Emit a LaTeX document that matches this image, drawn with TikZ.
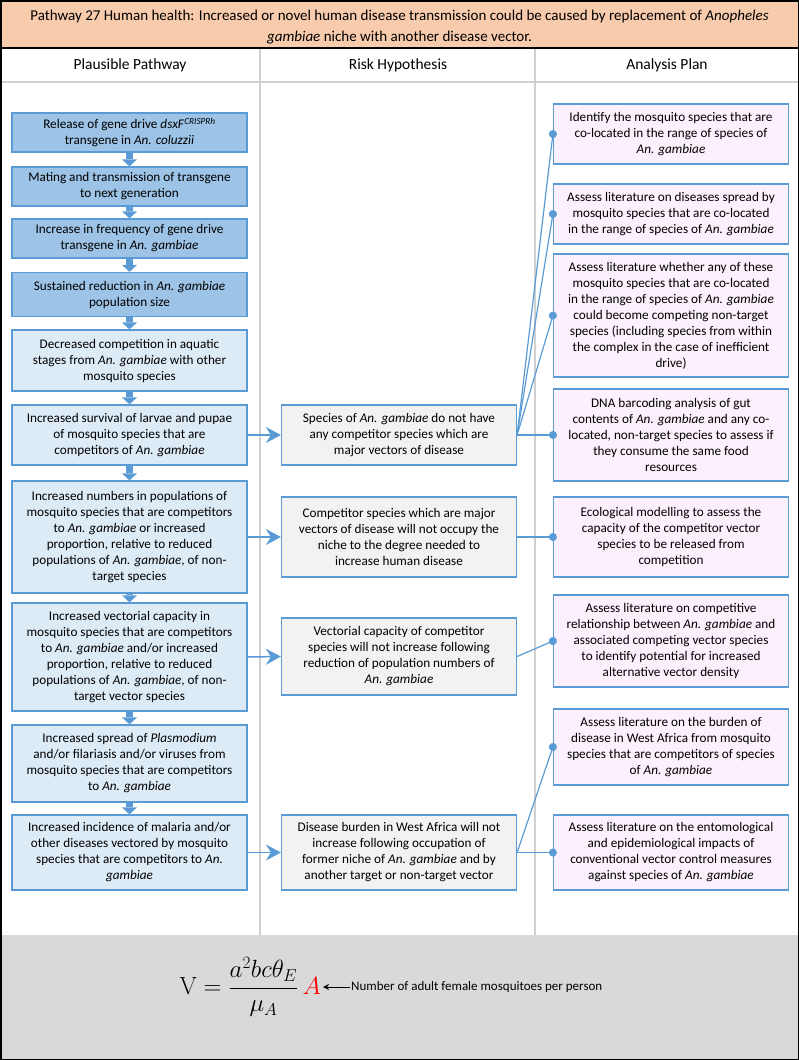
\documentclass[tikz,border=0pt]{standalone}
\usepackage{amsmath}
\usepackage[no-math]{fontspec}
\setmainfont{Carlito}
\usetikzlibrary{arrows.meta}

\definecolor{edgeblue}{RGB}{91,155,213}
\definecolor{driveblue}{RGB}{157,195,230}
\definecolor{paleblue}{RGB}{221,235,247}
\definecolor{riskgray}{RGB}{242,242,242}
\definecolor{planpink}{RGB}{252,240,252}
\definecolor{titlepeach}{RGB}{248,203,173}
\definecolor{bandgray}{RGB}{217,217,217}
\definecolor{rulegray}{RGB}{208,208,208}

\tikzset{
  box/.style={rectangle, draw=edgeblue, line width=1.2pt, align=center, inner sep=2pt,
    minimum width=235pt, font=\fontsize{13.2}{16}\selectfont},
  drivebox/.style={box, fill=driveblue},
  pathbox/.style={box, fill=paleblue},
  riskbox/.style={box, fill=riskgray},
  planbox/.style={box, fill=planpink},
  downarrow/.style={draw=edgeblue, line width=6.5pt, -{Triangle[width=15pt,length=7pt,line width=0pt]}},
  riskarrow/.style={draw=edgeblue, line width=1.5pt, -{Stealth[length=15pt,width=16pt,inset=5pt]}},
  planlink/.style={draw=edgeblue, line width=1.2pt, -{Circle[length=8pt,width=8pt]}, shorten >=-4pt},
  colhead/.style={font=\fontsize{15.5}{18}\selectfont}
}

\begin{document}
\begin{tikzpicture}[x=1pt,y=-1pt]
            \useasboundingbox (0,0) rectangle (799,1060);
            \fill[titlepeach] (0,0) rectangle (799,48);
            \fill[bandgray] (0,935) rectangle (799,1060);
            \draw[rulegray, line width=1.5pt] (0,82) -- (799,82);
            \draw[rulegray, line width=1.5pt] (260,48) -- (260,935);
            \draw[rulegray, line width=1.5pt] (535,48) -- (535,935);
            \draw[black, line width=1.6pt] (0,48) -- (799,48);
            \draw[black, line width=3pt] (0,0) rectangle (799,1060);
            \node[align=center, font=\fontsize{15}{21}\selectfont] (title) at (399.5,27.5) {Pathway 27 Human health: Increased or novel human disease transmission could be caused by replacement of \textit{Anopheles}\\ \textit{gambiae} niche with another disease vector.};
            \node[colhead] (hpath) at (130,65) {Plausible Pathway};
            \node[colhead] (hrisk) at (398,65) {Risk Hypothesis};
            \node[colhead] (hplan) at (667,65) {Analysis Plan};
            \begin{scope}[every node/.append style={}]
                \node[drivebox, minimum height=39pt] (l1) at (129.5,132.5) {Release of gene drive \textit{dsxF}\textsuperscript{\textit{CRISPRh}}\\ transgene in \textit{An. coluzzii}};
                \node[drivebox, minimum height=39pt] (l2) at (129.5,186.5) {Mating and transmission of transgene\\ to next generation};
                \node[drivebox, minimum height=39pt] (l3) at (129.5,238.5) {Increase in frequency of gene drive\\ transgene in \textit{An. gambiae}};
                \node[drivebox, minimum height=44pt] (l4) at (129.5,294.5) {Sustained reduction in \textit{An. gambiae}\\ population size};
                \node[pathbox, minimum height=61pt] (l5) at (129.5,360.5) {Decreased competition in aquatic\\ stages from \textit{An. gambiae} with other\\ mosquito species};
                \node[pathbox, minimum height=60pt] (l6) at (129.5,435) {Increased survival of larvae and pupae\\ of mosquito species that are\\ competitors of \textit{An. gambiae}};
                \node[pathbox, minimum height=112pt] (l7) at (129.5,537) {Increased numbers in populations of\\ mosquito species that are competitors\\ to \textit{An. gambiae} or increased\\ proportion, relative to reduced\\ populations of \textit{An. gambiae}, of non-\\ target species};
                \node[pathbox, minimum height=108pt] (l8) at (129.5,657) {Increased vectorial capacity in\\ mosquito species that are competitors\\ to \textit{An. gambiae} and/or increased\\ proportion, relative to reduced\\ populations of \textit{An. gambiae}, of non-\\ target vector species};
                \node[pathbox, minimum height=77pt] (l9) at (129.5,763.5) {Increased spread of \textit{Plasmodium}\\ and/or filariasis and/or viruses from\\ mosquito species that are competitors\\ to \textit{An. gambiae}};
                \node[pathbox, minimum height=75pt] (l10) at (129.5,852.5) {Increased incidence of malaria and/or\\ other diseases vectored by mosquito\\ species that are competitors to \textit{An.}\\ \textit{gambiae}};
            \end{scope}
            \begin{scope}[every node/.append style={riskbox}]
                \node[minimum height=60pt] (r1) at (399,435) {Species of \textit{An. gambiae} do not have\\ any competitor species which are\\ major vectors of disease};
                \node[minimum height=80pt] (r2) at (399,537) {Competitor species which are major\\ vectors of disease will not occupy the\\ niche to the degree needed to\\ increase human disease};
                \node[minimum height=77pt] (r3) at (399,656.5) {Vectorial capacity of competitor\\ species will not increase following\\ reduction of population numbers of\\ \textit{An. gambiae}};
                \node[minimum height=75pt] (r4) at (399,852.5) {Disease burden in West Africa will not\\ increase following occupation of\\ former niche of \textit{An. gambiae} and by\\ another target or non-target vector};
            \end{scope}
            \begin{scope}[every node/.append style={planbox}]
                \node[minimum height=60pt] (p1) at (671,134) {Identify the mosquito species that are\\ co-located in the range of species of\\ \textit{An. gambiae}};
                \node[minimum height=60pt] (p2) at (671,214) {Assess literature on diseases spread by\\ mosquito species that are co-located\\ in the range of species of \textit{An. gambiae}};
                \node[minimum height=123pt] (p3) at (671,315.5) {Assess literature whether any of these\\ mosquito species that are co-located\\ in the range of species of \textit{An. gambiae}\\ could become competing non-target\\ species (including species from within\\ the complex in the case of inefficient\\ drive)};
                \node[minimum height=92pt] (p4) at (671,435) {DNA barcoding analysis of gut\\ contents of \textit{An. gambiae} and any co-\\ located, non-target species to assess if\\ they consume the same food\\ resources};
                \node[minimum height=80pt] (p5) at (671,537) {Ecological modelling to assess the\\ capacity of the competitor vector\\ species to be released from\\ competition};
                \node[minimum height=92pt] (p6) at (671,641) {Assess literature on competitive\\ relationship between \textit{An. gambiae} and\\ associated competing vector species\\ to identify potential for increased\\ alternative vector density};
                \node[minimum height=76pt] (p7) at (671,747) {Assess literature on the burden of\\ disease in West Africa from mosquito\\ species that are competitors of species\\ of \textit{An. gambiae}};
                \node[minimum height=75pt] (p8) at (671,852.5) {Assess literature on the entomological\\ and epidemiological impacts of\\ conventional vector control measures\\ against species of \textit{An. gambiae}};
            \end{scope}
            \draw (l1) edge [downarrow] (l2);
            \draw (l2) edge [downarrow] (l3);
            \draw (l3) edge [downarrow] (l4);
            \draw (l4) edge [downarrow] (l5);
            \draw (l5) edge [downarrow] (l6);
            \draw (l6) edge [downarrow] (l7);
            \draw (l7) edge [downarrow] (l8);
            \draw (l8) edge [downarrow] (l9);
            \draw (l9) edge [downarrow] (l10);
            \draw (l6.east) edge [riskarrow] (r1.west);
            \draw (l7.east) edge [riskarrow] (r2.west);
            \draw (l8.east) edge [riskarrow] (r3.west);
            \draw (l10.east) edge [riskarrow] (r4.west);
            \draw (r1.east) edge [planlink] (p1.west);
            \draw (r1.east) edge [planlink] (p2.west);
            \draw (r1.east) edge [planlink] (p3.west);
            \draw (r1.east) edge [planlink] (p4.west);
            \draw (r2.east) edge [planlink] (p5.west);
            \draw (r3.east) edge [planlink] (p6.west);
            \draw (r4.east) edge [planlink] (p7.west);
            \draw (r4.east) edge [planlink] (p8.west);
            \node[anchor=east, inner sep=2pt, font=\fontsize{27}{32}\selectfont] (vformula) at (323,987) {$\mathrm{V}=\dfrac{a^{2}bc\theta_{E}}{\mu_{A}}\,{\color{red}A}$};
            \node[anchor=west, inner sep=1pt, font=\fontsize{13}{16}\selectfont] (note) at (350,987) {Number of adult female mosquitoes per person};
            \draw (note) edge [black, line width=1pt, -{Stealth[length=6pt,width=6pt]}] (vformula);
        \end{tikzpicture}
\end{document}
